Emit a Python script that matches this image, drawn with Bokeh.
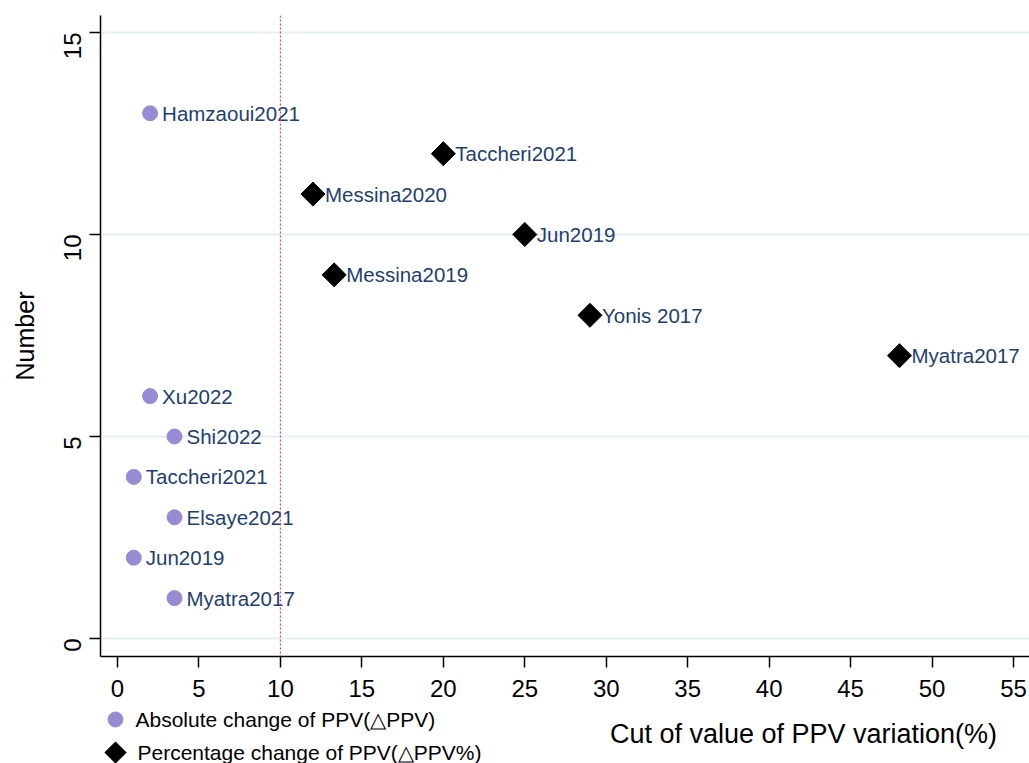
import math
from bokeh.plotting import figure
from bokeh.layouts import column
from bokeh.models import Range1d, FixedTicker, Span, ColumnDataSource
from bokeh.core.properties import value
from bokeh.embed import file_html
from bokeh.resources import INLINE

# ---- data ----
abs_names = ["Hamzaoui2021", "Xu2022", "Shi2022", "Taccheri2021", "Elsaye2021", "Jun2019", "Myatra2017"]
abs_cut = [2, 2, 3.5, 1, 3.5, 1, 3.5]
abs_num = [13, 6, 5, 4, 3, 2, 1]

pct_names = ["Taccheri2021", "Messina2020", "Jun2019", "Messina2019", "Yonis 2017", "Myatra2017"]
pct_cut = [20, 12, 25, 13.3, 29, 48]
pct_num = [12, 11, 10, 9, 8, 7]

x_ticks = [0, 5, 10, 15, 20, 25, 30, 35, 40, 45, 50, 55]
y_ticks = [0, 5, 10, 15]
cutoff = 10

legend_labels = ["Absolute change of PPV(△PPV)", "Percentage change of PPV(△PPV%)"]
x_title = "Cut of value of PPV variation(%)"
y_title = "Number"

FONT = "Liberation Sans"
TXT = "#1f3f6e"
PURPLE = "#978bd4"

# ---------------- main plot ----------------
p = figure(width=1029, height=705, output_backend="svg", toolbar_location=None,
           x_range=Range1d(-1.0435, 55.98), y_range=Range1d(-0.4455, 15.42),
           min_border_left=100, min_border_right=0, min_border_top=15, min_border_bottom=49)
p.outline_line_color = None
p.background_fill_color = "white"

p.xgrid.visible = False
p.ygrid.ticker = FixedTicker(ticks=y_ticks)
p.ygrid.grid_line_color = "#e6eff3"
p.ygrid.grid_line_width = 2

for ax in (p.xaxis[0], p.yaxis[0]):
    ax.axis_line_color = "black"
    ax.axis_line_width = 1.5
    ax.major_tick_line_color = "black"
    ax.major_tick_line_width = 1.5
    ax.major_tick_out = 11
    ax.major_tick_in = 0
    ax.minor_tick_line_color = None
    ax.major_label_text_font = FONT
    ax.major_label_text_font_size = "24px"
    ax.major_label_text_color = "black"

p.xaxis[0].ticker = FixedTicker(ticks=x_ticks)
p.xaxis[0].major_label_standoff = 12
p.yaxis[0].ticker = FixedTicker(ticks=y_ticks)
p.yaxis[0].major_label_orientation = math.pi / 2
p.yaxis[0].major_label_standoff = 17
p.yaxis[0].axis_label = y_title
p.yaxis[0].axis_label_text_font = FONT
p.yaxis[0].axis_label_text_font_size = "25px"
p.yaxis[0].axis_label_text_font_style = "normal"
p.yaxis[0].axis_label_text_color = "black"
p.yaxis[0].axis_label_standoff = 14

p.add_layout(Span(location=cutoff, dimension="height", line_color="#e0405f",
                  line_dash="2 2", line_width=1.2))

src_a = ColumnDataSource(dict(x=abs_cut, y=abs_num, name=abs_names))
src_p = ColumnDataSource(dict(x=pct_cut, y=pct_num, name=pct_names))

p.scatter("x", "y", source=src_a, marker="circle", size=15,
          fill_color=PURPLE, line_color=PURPLE)
p.scatter("x", "y", source=src_p, marker="square", size=17, angle=math.pi / 4,
          fill_color="black", line_color="black")

for src in (src_a, src_p):
    p.text("x", "y", text="name", source=src, x_offset=12, text_baseline="middle",
           text_align="left", text_font=value(FONT), text_font_size="20.5px",
           text_color=TXT)

# ---------------- legend / x-title strip (frame aligned with main frame: 100..1029 px) ----------------
H2 = 58
q = figure(width=1029, height=H2, output_backend="svg", toolbar_location=None,
           x_range=Range1d(100, 1029), y_range=Range1d(0, H2),
           min_border_left=100, min_border_right=0,
           min_border_top=0, min_border_bottom=0)
q.axis.visible = False
q.grid.visible = False
q.outline_line_color = None

q.scatter([115], [44], marker="circle", size=15, fill_color=PURPLE, line_color=PURPLE)
q.scatter([115], [11], marker="square", size=15, angle=math.pi / 4,
          fill_color="black", line_color="black")
q.text([135, 137], [44, 11], text=legend_labels, text_baseline="middle", text_align="left",
       text_font=value(FONT), text_font_size="21px", text_color="black")
q.text([803], [30], text=[x_title], text_baseline="middle", text_align="center",
       text_font=value(FONT), text_font_size="27px", text_color="black")

layout = column(p, q, spacing=0)
open("out.html", "w").write(file_html(layout, INLINE))
